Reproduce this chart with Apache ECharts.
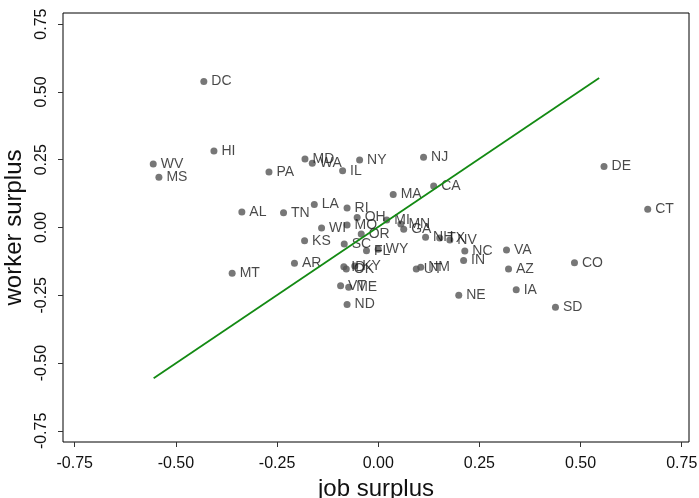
<!DOCTYPE html>
<html>
<head>
<meta charset="utf-8">
<script src="https://cdn.jsdelivr.net/npm/echarts@6/dist/echarts.min.js"></script>
<style>html,body{margin:0;padding:0;background:#fff}#c{width:699px;height:498px}</style>
</head>
<body>
<div id="c"></div>
<script>
const states = ['DC','HI','WV','MS','PA','MD','WA','IL','NY','NJ','CA','MA','AL','TN','LA','RI','OH','WI','MO','OR','KS','SC','FL','WY','AR','MT','ID','OK','KY','VT','ME','ND','UT','NM','NE','NC','IN','MI','MN','GA','NH','TX','NV','DE','CT','VA','AZ','CO','IA','SD'];
const jobSurplus = [-0.431,-0.406,-0.556,-0.542,-0.270,-0.181,-0.163,-0.088,-0.046,0.112,0.137,0.037,-0.337,-0.234,-0.158,-0.077,-0.052,-0.140,-0.077,-0.042,-0.182,-0.084,-0.029,0.000,-0.207,-0.361,-0.085,-0.079,-0.058,-0.093,-0.073,-0.077,0.094,0.105,0.199,0.214,0.211,0.021,0.056,0.063,0.117,0.152,0.177,0.558,0.666,0.317,0.322,0.485,0.341,0.438];
const workerSurplus = [0.538,0.282,0.234,0.185,0.205,0.253,0.237,0.209,0.249,0.259,0.153,0.122,0.057,0.054,0.085,0.072,0.037,-0.002,0.009,-0.024,-0.049,-0.061,-0.086,-0.080,-0.132,-0.169,-0.145,-0.153,-0.142,-0.215,-0.220,-0.284,-0.153,-0.147,-0.250,-0.087,-0.122,0.028,0.013,-0.006,-0.036,-0.039,-0.046,0.225,0.067,-0.083,-0.153,-0.130,-0.230,-0.294];
const fitLine = [[-0.555,-0.556],[0.546,0.551]];
const tickValues = [-0.75,-0.50,-0.25,0.00,0.25,0.50,0.75];

const pts = states.map((s,i)=>[jobSurplus[i], workerSurplus[i], s]);
const FONT = 'Liberation Sans, Arial, sans-serif';
const chart = echarts.init(document.getElementById('c'));
chart.setOption({
  animation:false,
  backgroundColor:'#fff',
  grid:{left:63,right:10,top:13,bottom:56,show:true,borderColor:'#000',borderWidth:1,backgroundColor:'transparent',outerBoundsMode:'none'},
  xAxis:{type:'value',min:-0.779,max:0.768,
    name:'job surplus',nameLocation:'middle',nameGap:30,
    nameTextStyle:{fontFamily:FONT,fontSize:24,color:'#111'},
    axisLine:{show:false,onZero:false},
    splitLine:{show:false},
    axisTick:{show:true,inside:false,length:5,customValues:tickValues,lineStyle:{color:'#333'}},
    axisLabel:{customValues:tickValues,margin:14,fontFamily:FONT,fontSize:16,color:'#111',formatter:v=>v.toFixed(2)}
  },
  yAxis:{type:'value',min:-0.791,max:0.791,
    name:'worker surplus',nameLocation:'middle',nameGap:30,nameRotate:90,
    nameTextStyle:{fontFamily:FONT,fontSize:24,color:'#111'},
    axisLine:{show:false,onZero:false},
    splitLine:{show:false},
    axisTick:{show:true,inside:false,length:5,customValues:tickValues,lineStyle:{color:'#333'}},
    axisLabel:{customValues:tickValues,rotate:90,margin:13,fontFamily:FONT,fontSize:16,color:'#111',formatter:v=>v.toFixed(2)}
  },
  series:[
    {type:'scatter',data:pts,symbolSize:7,itemStyle:{color:'#555'},
      label:{show:true,position:'right',distance:4,formatter:p=>p.data[2],fontFamily:FONT,fontSize:14,color:'#1a1a1a'},
      labelLayout:{hideOverlap:false}},
    {type:'line',data:fitLine,symbol:'none',z:5,lineStyle:{color:'#138a13',width:1.8}}
  ]
});
</script>
</body>
</html>
